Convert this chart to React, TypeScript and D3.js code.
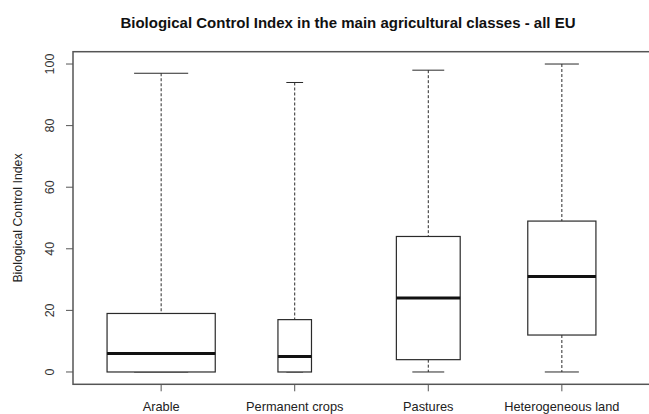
import React from "react";
import * as d3 from "d3";

const categories = ["Arable", "Permanent crops", "Pastures", "Heterogeneous land"];
const whiskerLow = [0, 0, 0, 0];
const q1 = [0, 0, 4, 12];
const medians = [6, 5, 24, 31];
const q3 = [19, 17, 44, 49];
const whiskerHigh = [97, 94, 98, 100];
const relWidths = [1.0, 0.31, 0.59, 0.63];
const yTicks = [0, 20, 40, 60, 80, 100];

const W = 649;
const H = 414;

export default function App() {
  const x = d3.scaleLinear().domain([0.34, 4.66]).range([73, 650]);
  const y = d3.scaleLinear().domain([-4, 104]).range([384.3, 51.7]);
  const unit = x(2) - x(1);
  const maxW = 0.81 * unit;
  const font = "'Liberation Sans', Arial, sans-serif";
  const lineCol = "#2a2a2a";

  return (
    <svg
      width={W}
      height={H}
      style={{ position: "absolute", left: 0, top: 0, background: "#fff" }}
      fontFamily={font}
    >
      <rect x={0} y={0} width={W} height={H} fill="#fff" />
      <text x={348} y={28} textAnchor="middle" fontSize={15} fontWeight="bold" fill="#111">
        Biological Control Index in the main agricultural classes - all EU
      </text>
      {/* frame */}
      <rect x={x(0.34)} y={y(104)} width={x(4.66) - x(0.34)} height={y(-4) - y(104)} fill="none" stroke="#555" strokeWidth={1.5} />
      {/* y axis ticks */}
      {yTicks.map((t) => (
        <g key={t}>
          <line x1={x(0.34) - 7} x2={x(0.34)} y1={y(t)} y2={y(t)} stroke="#555" strokeWidth={1} />
          <text
            transform={`translate(${54},${y(t)}) rotate(-90)`}
            textAnchor="middle"
            fontSize={12.5}
            fill="#333"
          >
            {t}
          </text>
        </g>
      ))}
      <text transform={`translate(22,218) rotate(-90)`} textAnchor="middle" fontSize={12.3} fill="#222">
        Biological Control Index
      </text>
      {/* x ticks and labels */}
      {categories.map((c, i) => (
        <g key={c}>
          <line x1={x(i + 1)} x2={x(i + 1)} y1={y(-4)} y2={y(-4) + 7} stroke="#555" strokeWidth={1} />
          <text x={x(i + 1)} y={411} textAnchor="middle" fontSize={12.8} fill="#222">
            {c}
          </text>
        </g>
      ))}
      {/* boxes */}
      {categories.map((c, i) => {
        const cx = x(i + 1);
        const bw = maxW * relWidths[i];
        const cap = bw / 2;
        return (
          <g key={"b" + c} stroke={lineCol} fill="none">
            <line x1={cx} x2={cx} y1={y(whiskerHigh[i])} y2={y(q3[i])} strokeDasharray="3,2" strokeWidth={1} />
            <line x1={cx} x2={cx} y1={y(q1[i])} y2={y(whiskerLow[i])} strokeDasharray="3,2" strokeWidth={1} />
            <line x1={cx - cap / 2} x2={cx + cap / 2} y1={y(whiskerHigh[i])} y2={y(whiskerHigh[i])} strokeWidth={1} />
            <line x1={cx - cap / 2} x2={cx + cap / 2} y1={y(whiskerLow[i])} y2={y(whiskerLow[i])} strokeWidth={1} />
            <rect x={cx - bw / 2} y={y(q3[i])} width={bw} height={y(q1[i]) - y(q3[i])} fill="#fff" strokeWidth={1.2} />
            <line x1={cx - bw / 2} x2={cx + bw / 2} y1={y(medians[i])} y2={y(medians[i])} stroke="#111" strokeWidth={3} />
          </g>
        );
      })}
    </svg>
  );
}
